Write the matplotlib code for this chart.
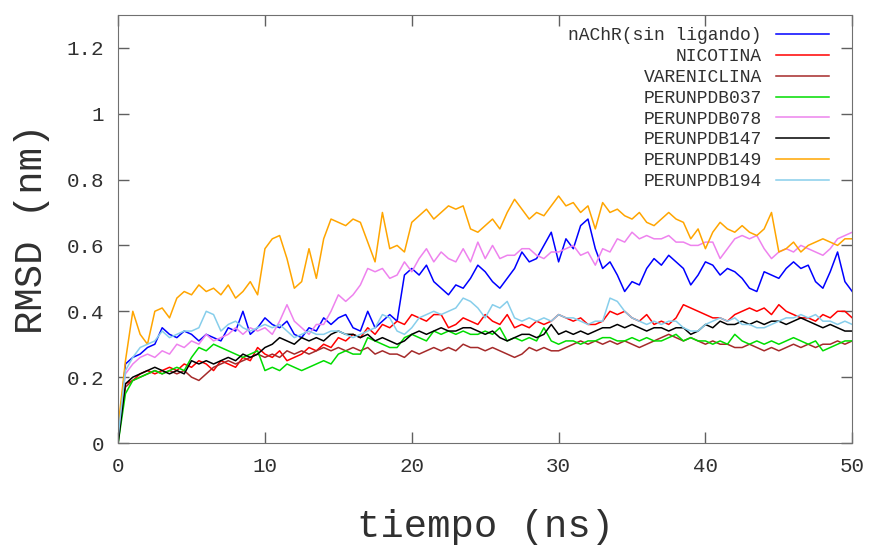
import numpy as np
import matplotlib
matplotlib.use("Agg")
import matplotlib.pyplot as plt

# tiempo (ns), una muestra cada 0.5 ns
tiempo = np.linspace(0, 50, 101)

nachr = [0.02, 0.24, 0.26, 0.27, 0.29, 0.30, 0.35, 0.33, 0.32, 0.34,
         0.33, 0.31, 0.33, 0.32, 0.31, 0.35, 0.34, 0.40, 0.33, 0.35,
         0.38, 0.36, 0.35, 0.37, 0.33, 0.32, 0.35, 0.34, 0.38, 0.36,
         0.38, 0.39, 0.35, 0.34, 0.40, 0.35, 0.37, 0.39, 0.37, 0.51,
         0.53, 0.51, 0.54, 0.49, 0.47, 0.45, 0.48, 0.47, 0.50, 0.54,
         0.52, 0.49, 0.47, 0.50, 0.53, 0.58, 0.55, 0.56, 0.60, 0.64,
         0.55, 0.62, 0.59, 0.66, 0.68, 0.59, 0.53, 0.55, 0.51, 0.46,
         0.49, 0.48, 0.53, 0.56, 0.54, 0.57, 0.55, 0.53, 0.48, 0.51,
         0.55, 0.54, 0.51, 0.53, 0.52, 0.50, 0.47, 0.46, 0.52, 0.51,
         0.50, 0.53, 0.55, 0.53, 0.54, 0.49, 0.47, 0.52, 0.58, 0.49,
         0.46]

nicotina = [0.02, 0.18, 0.19, 0.21, 0.22, 0.21, 0.22, 0.23, 0.22, 0.24,
            0.23, 0.25, 0.24, 0.22, 0.25, 0.24, 0.23, 0.26, 0.25, 0.29,
            0.27, 0.26, 0.28, 0.25, 0.26, 0.27, 0.29, 0.28, 0.30, 0.29,
            0.32, 0.31, 0.33, 0.32, 0.35, 0.33, 0.36, 0.35, 0.37, 0.36,
            0.39, 0.38, 0.37, 0.39, 0.39, 0.35, 0.36, 0.38, 0.37, 0.36,
            0.39, 0.37, 0.36, 0.39, 0.35, 0.36, 0.35, 0.37, 0.36, 0.37,
            0.39, 0.38, 0.37, 0.38, 0.36, 0.36, 0.37, 0.40, 0.39, 0.40,
            0.38, 0.37, 0.39, 0.36, 0.37, 0.36, 0.38, 0.42, 0.41, 0.40,
            0.39, 0.38, 0.38, 0.37, 0.39, 0.40, 0.41, 0.40, 0.41, 0.39,
            0.42, 0.40, 0.39, 0.38, 0.38, 0.37, 0.39, 0.38, 0.40, 0.40,
            0.38]

vareniclina = [0.03, 0.17, 0.19, 0.20, 0.21, 0.22, 0.21, 0.22, 0.21, 0.22,
               0.20, 0.19, 0.21, 0.23, 0.24, 0.25, 0.24, 0.25, 0.26, 0.27,
               0.26, 0.27, 0.26, 0.28, 0.27, 0.28, 0.27, 0.28, 0.29, 0.28,
               0.29, 0.28, 0.29, 0.28, 0.29, 0.27, 0.28, 0.27, 0.27, 0.26,
               0.28, 0.27, 0.28, 0.29, 0.28, 0.29, 0.28, 0.30, 0.29, 0.29,
               0.28, 0.29, 0.28, 0.27, 0.26, 0.27, 0.29, 0.28, 0.29, 0.28,
               0.28, 0.29, 0.30, 0.31, 0.30, 0.31, 0.30, 0.31, 0.30, 0.31,
               0.30, 0.29, 0.30, 0.31, 0.32, 0.33, 0.32, 0.31, 0.32, 0.31,
               0.30, 0.31, 0.30, 0.30, 0.29, 0.29, 0.30, 0.29, 0.28, 0.29,
               0.28, 0.29, 0.30, 0.29, 0.30, 0.29, 0.30, 0.30, 0.31, 0.30,
               0.31]

pdb037 = [0.00, 0.15, 0.19, 0.20, 0.21, 0.22, 0.21, 0.22, 0.23, 0.22,
          0.26, 0.29, 0.28, 0.30, 0.29, 0.28, 0.27, 0.26, 0.27, 0.28,
          0.22, 0.23, 0.22, 0.24, 0.23, 0.22, 0.23, 0.24, 0.25, 0.24,
          0.27, 0.28, 0.27, 0.27, 0.32, 0.31, 0.30, 0.29, 0.29, 0.32,
          0.33, 0.32, 0.31, 0.34, 0.33, 0.34, 0.33, 0.34, 0.33, 0.33,
          0.34, 0.33, 0.35, 0.31, 0.32, 0.31, 0.32, 0.31, 0.35, 0.31,
          0.30, 0.31, 0.31, 0.30, 0.31, 0.31, 0.32, 0.32, 0.31, 0.31,
          0.32, 0.31, 0.32, 0.31, 0.31, 0.32, 0.33, 0.31, 0.32, 0.31,
          0.31, 0.30, 0.31, 0.30, 0.33, 0.31, 0.30, 0.31, 0.30, 0.31,
          0.30, 0.31, 0.32, 0.31, 0.30, 0.31, 0.28, 0.29, 0.30, 0.31,
          0.31]

pdb078 = [0.05, 0.21, 0.24, 0.26, 0.27, 0.26, 0.28, 0.27, 0.30, 0.29,
          0.31, 0.30, 0.33, 0.31, 0.32, 0.33, 0.35, 0.33, 0.35, 0.34,
          0.35, 0.33, 0.37, 0.42, 0.37, 0.35, 0.33, 0.36, 0.36, 0.40,
          0.45, 0.43, 0.45, 0.48, 0.53, 0.52, 0.53, 0.50, 0.51, 0.55,
          0.52, 0.56, 0.59, 0.55, 0.58, 0.56, 0.55, 0.59, 0.55, 0.61,
          0.56, 0.60, 0.56, 0.57, 0.57, 0.59, 0.59, 0.57, 0.56, 0.58,
          0.58, 0.59, 0.60, 0.57, 0.58, 0.54, 0.59, 0.58, 0.62, 0.61,
          0.64, 0.62, 0.63, 0.62, 0.62, 0.63, 0.61, 0.61, 0.60, 0.60,
          0.61, 0.61, 0.56, 0.59, 0.62, 0.63, 0.62, 0.63, 0.59, 0.56,
          0.58, 0.59, 0.58, 0.60, 0.59, 0.58, 0.57, 0.59, 0.62, 0.63,
          0.64]

pdb147 = [0.00, 0.18, 0.20, 0.21, 0.22, 0.23, 0.22, 0.21, 0.22, 0.21,
          0.25, 0.24, 0.25, 0.24, 0.25, 0.26, 0.25, 0.27, 0.26, 0.27,
          0.29, 0.30, 0.32, 0.31, 0.30, 0.32, 0.31, 0.32, 0.31, 0.33,
          0.34, 0.33, 0.33, 0.32, 0.33, 0.31, 0.32, 0.31, 0.30, 0.31,
          0.33, 0.34, 0.33, 0.34, 0.35, 0.34, 0.34, 0.35, 0.35, 0.34,
          0.33, 0.34, 0.32, 0.31, 0.32, 0.33, 0.33, 0.32, 0.33, 0.36,
          0.33, 0.34, 0.33, 0.34, 0.33, 0.34, 0.35, 0.35, 0.36, 0.35,
          0.36, 0.35, 0.34, 0.35, 0.35, 0.34, 0.35, 0.35, 0.33, 0.34,
          0.36, 0.35, 0.37, 0.36, 0.36, 0.37, 0.36, 0.37, 0.36, 0.37,
          0.37, 0.36, 0.37, 0.38, 0.37, 0.36, 0.35, 0.36, 0.35, 0.34,
          0.34]

pdb149 = [0.05, 0.25, 0.40, 0.33, 0.30, 0.40, 0.41, 0.38, 0.44, 0.46,
          0.45, 0.48, 0.46, 0.47, 0.45, 0.48, 0.44, 0.46, 0.49, 0.45,
          0.59, 0.62, 0.63, 0.56, 0.47, 0.49, 0.59, 0.50, 0.62, 0.68,
          0.67, 0.66, 0.68, 0.67, 0.61, 0.55, 0.70, 0.59, 0.60, 0.58,
          0.67, 0.69, 0.71, 0.68, 0.70, 0.72, 0.71, 0.72, 0.65, 0.64,
          0.66, 0.68, 0.65, 0.70, 0.74, 0.71, 0.68, 0.70, 0.69, 0.72,
          0.75, 0.72, 0.73, 0.70, 0.72, 0.65, 0.73, 0.70, 0.71, 0.69,
          0.68, 0.70, 0.67, 0.66, 0.68, 0.70, 0.68, 0.67, 0.62, 0.65,
          0.59, 0.64, 0.67, 0.65, 0.64, 0.66, 0.64, 0.63, 0.65, 0.70,
          0.58, 0.59, 0.61, 0.58, 0.60, 0.61, 0.62, 0.61, 0.60, 0.62,
          0.62]

pdb194 = [0.02, 0.22, 0.26, 0.29, 0.30, 0.31, 0.34, 0.32, 0.33, 0.34,
          0.34, 0.35, 0.40, 0.39, 0.34, 0.36, 0.37, 0.35, 0.34, 0.35,
          0.36, 0.35, 0.36, 0.34, 0.32, 0.33, 0.34, 0.33, 0.33, 0.34,
          0.34, 0.33, 0.32, 0.33, 0.34, 0.35, 0.39, 0.38, 0.34, 0.33,
          0.35, 0.38, 0.39, 0.40, 0.39, 0.40, 0.41, 0.44, 0.43, 0.41,
          0.38, 0.42, 0.41, 0.43, 0.38, 0.37, 0.38, 0.37, 0.38, 0.37,
          0.39, 0.38, 0.38, 0.37, 0.36, 0.37, 0.37, 0.44, 0.43, 0.40,
          0.38, 0.37, 0.36, 0.37, 0.36, 0.37, 0.37, 0.35, 0.34, 0.34,
          0.36, 0.37, 0.38, 0.37, 0.38, 0.36, 0.36, 0.35, 0.35, 0.36,
          0.37, 0.38, 0.38, 0.39, 0.38, 0.39, 0.37, 0.37, 0.36, 0.37,
          0.36]

series = [nachr, nicotina, vareniclina, pdb037, pdb078, pdb147, pdb149, pdb194]
etiquetas = ["nAChR(sin ligando)", "NICOTINA", "VARENICLINA", "PERUNPDB037",
             "PERUNPDB078", "PERUNPDB147", "PERUNPDB149", "PERUNPDB194"]
colores = ["#0000ff", "#ff0000", "#a52a2a", "#00dd00",
           "#ee82ee", "#000000", "#ffa500", "#87ceeb"]

plt.rcParams['font.family'] = ['Liberation Mono', 'DejaVu Sans Mono']
gris = "#303030"

fig = plt.figure(figsize=(8.75, 5.49), dpi=100)
ax = fig.add_axes([0.135, 0.193, 0.839, 0.780])

for y, lab, c in zip(series, etiquetas, colores):
    ax.plot(tiempo, y, color=c, lw=1.1, label=lab)

ax.set_xlim(0, 50)
ax.set_ylim(0, 1.3)
ax.set_xticks([0, 10, 20, 30, 40, 50])
ax.set_yticks([0, 0.2, 0.4, 0.6, 0.8, 1.0, 1.2])
ax.set_yticklabels(["0", "0.2", "0.4", "0.6", "0.8", "1", "1.2"])
ax.tick_params(direction="in", length=8, width=1, top=True, right=True,
               labelsize=15, colors="#606060", labelcolor=gris, pad=10)
for s in ax.spines.values():
    s.set_color("#707070")

ax.set_xlabel("tiempo (ns)", fontsize=28, color=gris, labelpad=24)
ax.set_ylabel("RMSD (nm)", fontsize=28, color=gris, labelpad=12)

leg = ax.legend(loc="upper right", frameon=False, markerfirst=False,
                fontsize=13, handlelength=2.9, labelspacing=0.21,
                bbox_to_anchor=(0.985, 1.0), borderaxespad=0.3)
for t in leg.get_texts():
    t.set_color(gris)
    t.set_ha("right")

plt.savefig("out.png", dpi=100)
